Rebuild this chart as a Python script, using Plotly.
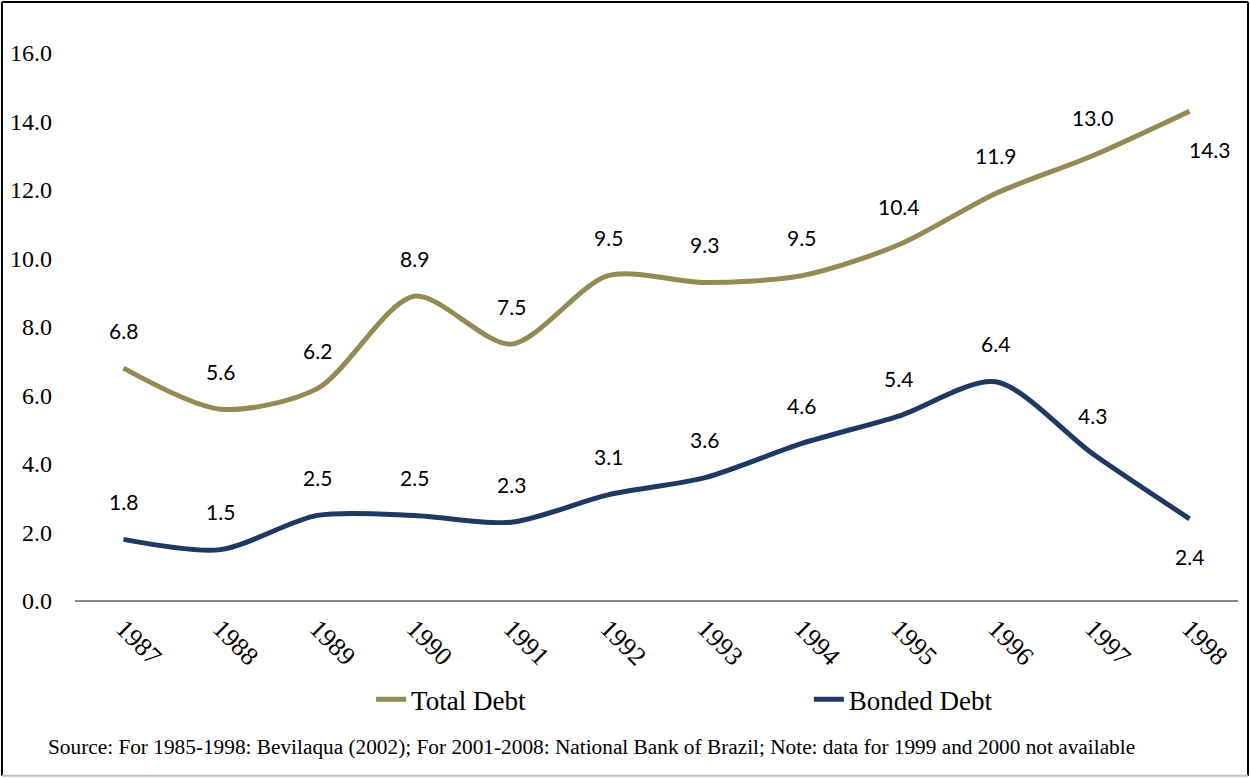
import plotly.graph_objects as go

years = ["1987", "1988", "1989", "1990", "1991", "1992", "1993", "1994", "1995", "1996", "1997", "1998"]
total_debt = [6.8, 5.6, 6.2, 8.9, 7.5, 9.5, 9.3, 9.5, 10.4, 11.9, 13.0, 14.3]
bonded_debt = [1.8, 1.5, 2.5, 2.5, 2.3, 3.1, 3.6, 4.6, 5.4, 6.4, 4.3, 2.4]
y_ticks = [0, 2, 4, 6, 8, 10, 12, 14, 16]
source_text = ("Source: For 1985-1998: Bevilaqua (2002); For 2001-2008: National Bank of Brazil; "
               "Note: data for 1999 and 2000 not available")

# label placement: +1 above, -1 below
total_pos = [1] * 11 + [-1]
bonded_pos = [1] * 11 + [-1]

OLIVE = "#948A54"
NAVY = "#1F3864"

fig = go.Figure()
fig.add_trace(go.Scatter(x=years, y=total_debt, name="Total Debt", mode="lines", legend="legend",
                         line=dict(color=OLIVE, width=5, shape="spline", smoothing=0.8)))
fig.add_trace(go.Scatter(x=years, y=bonded_debt, name="Bonded Debt", mode="lines", legend="legend2",
                         line=dict(color=NAVY, width=5, shape="spline", smoothing=0.8)))

anns = []
for series, pos in ((total_debt, total_pos), (bonded_debt, bonded_pos)):
    for i, v in enumerate(series):
        last = i == len(series) - 1
        anns.append(dict(x=i, y=v, xref="x", yref="y", text=f"{v:.1f}", showarrow=False,
                         yshift=38 * pos[i], xshift=(20 if (last and series is total_debt) else 0),
                         font=dict(family="Lato", size=21, color="#000000")))
anns.append(dict(x=0.444, y=-0.267, xref="paper", yref="paper", text=source_text, showarrow=False,
                 xanchor="center", yanchor="middle",
                 font=dict(family="Liberation Serif", size=21.3, color="#000000")))
fig.update_layout(annotations=anns)

leg_common = dict(orientation="h", yanchor="middle", xanchor="left",
                  font=dict(family="Liberation Serif", size=27, color="#000000"),
                  bgcolor="rgba(0,0,0,0)")
fig.update_layout(
    width=1250, height=778,
    margin=dict(l=75, r=12, t=53, b=177, autoexpand=False),
    paper_bgcolor="white", plot_bgcolor="white",
    showlegend=True,
    legend=dict(x=0.2546, y=-0.18, **leg_common),
    legend2=dict(x=0.631, y=-0.18, **leg_common),
    xaxis=dict(type="category", range=[-0.5, 11.5], tickangle=45, showgrid=False, showline=False,
               ticks="", zeroline=False, ticklabelstandoff=6,
               tickfont=dict(family="Liberation Serif", size=26, color="#000000")),
    yaxis=dict(range=[0, 16], tickvals=y_ticks, ticktext=[f"{t:.1f}" for t in y_ticks],
               showgrid=False, zeroline=True, zerolinecolor="#868686", zerolinewidth=2,
               showline=False, ticks="", ticklabelstandoff=22,
               tickfont=dict(family="Liberation Serif", size=24, color="#000000")),
    shapes=[
        dict(type="line", xref="paper", yref="paper", x0=-0.0628, x1=-0.0628, y0=-0.319, y1=1.093,
             line=dict(color="black", width=2)),
        dict(type="line", xref="paper", yref="paper", x0=-0.0628, x1=1.0086, y0=1.093, y1=1.093,
             line=dict(color="black", width=2)),
        dict(type="line", xref="paper", yref="paper", x0=1.0086, x1=1.0086, y0=-0.319, y1=1.093,
             line=dict(color="black", width=2)),
        dict(type="line", xref="paper", yref="paper", x0=-0.0628, x1=1.0086, y0=-0.319, y1=-0.319,
             line=dict(color="#BFBFBF", width=2)),
    ],
)

fig.write_html("out.html", config={"displayModeBar": False},
               post_script="document.body.style.margin='0';")
